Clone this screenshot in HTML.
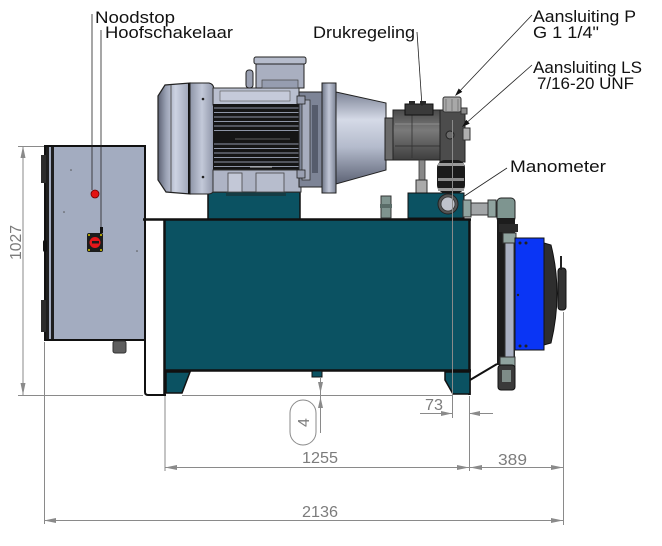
<!DOCTYPE html>
<html><head><meta charset="utf-8">
<style>html,body{margin:0;padding:0;background:#fff;}svg{display:block}</style>
</head>
<body>
<svg width="662" height="546" viewBox="0 0 662 546" xmlns="http://www.w3.org/2000/svg" font-family="Liberation Sans, DejaVu Sans, sans-serif">
<defs>
 <linearGradient id="fanG" x1="0" x2="1" y1="0" y2="0">
  <stop offset="0" stop-color="#5d6374"/><stop offset="0.25" stop-color="#9aa1b4"/><stop offset="0.55" stop-color="#cdd3e2"/><stop offset="1" stop-color="#9ba2b5"/>
 </linearGradient>
 <linearGradient id="shG" x1="0" x2="1" y1="0" y2="0">
  <stop offset="0" stop-color="#8e95a8"/><stop offset="0.5" stop-color="#c3c9d9"/><stop offset="1" stop-color="#8d94a7"/>
 </linearGradient>
 <linearGradient id="coneG" x1="0" x2="0" y1="0" y2="1">
  <stop offset="0" stop-color="#7d8497"/><stop offset="0.3" stop-color="#d5dae7"/><stop offset="0.6" stop-color="#b4bbcc"/><stop offset="1" stop-color="#5d6375"/>
 </linearGradient>
 <linearGradient id="flG" x1="0" x2="1" y1="0" y2="0">
  <stop offset="0" stop-color="#6f7688"/><stop offset="0.5" stop-color="#c2c8d8"/><stop offset="1" stop-color="#7b8294"/>
 </linearGradient>
 <linearGradient id="pumpG" x1="0" x2="0" y1="0" y2="1">
  <stop offset="0" stop-color="#4a4a4a"/><stop offset="0.4" stop-color="#7a7a7a"/><stop offset="1" stop-color="#3e3e3e"/>
 </linearGradient>
</defs>

<!-- ===== Cabinet ===== -->
<rect x="45" y="146" width="100" height="194" fill="#a3acc0" stroke="#111" stroke-width="2"/>
<rect x="46" y="147" width="3" height="192" fill="#1e1e1e"/>
<rect x="51" y="147" width="3" height="192" fill="#1e1e1e"/>
<rect x="41" y="155" width="5" height="28" fill="#2c2c2c"/>
<rect x="41" y="300" width="5" height="32" fill="#2c2c2c"/>
<rect x="43" y="240" width="4" height="12" rx="2" fill="#111"/>
<circle cx="71" cy="170" r="0.8" fill="#555"/>
<circle cx="64" cy="212" r="0.8" fill="#555"/>
<circle cx="137" cy="251" r="0.8" fill="#555"/>
<rect x="113" y="341" width="13" height="12" rx="2" fill="#5e5e5e" stroke="#333"/>
<circle cx="95" cy="194" r="4" fill="#e31212" stroke="#6a0000" stroke-width="0.8"/>
<rect x="87" y="233" width="16" height="19" rx="2" fill="#1c1c1c"/>
<circle cx="95" cy="242.5" r="5.5" fill="#e4161a"/>
<rect x="92" y="241" width="7" height="2.5" fill="#1c1c1c"/>
<circle cx="89" cy="235" r="1" fill="#d8c800"/><circle cx="101" cy="235" r="1" fill="#d8c800"/>
<circle cx="89" cy="250" r="1" fill="#d8c800"/><circle cx="101" cy="250" r="1" fill="#d8c800"/>
<line x1="92" y1="14" x2="92" y2="190" stroke="#222" stroke-width="0.8"/>
<line x1="101" y1="30" x2="101" y2="232" stroke="#222" stroke-width="0.8"/>
<rect x="100" y="227" width="3" height="6" fill="#111"/>

<!-- ===== Tank ===== -->
<path d="M145,322 L145,392 Q145,395 148,395 L166,395" fill="none" stroke="#111" stroke-width="2"/>
<rect x="165" y="220" width="305" height="150" fill="#0b5262"/>
<line x1="143" y1="219.5" x2="471" y2="219.5" stroke="#111" stroke-width="2.5"/>
<line x1="164.5" y1="219" x2="164.5" y2="395" stroke="#111" stroke-width="2.5"/>
<line x1="164" y1="370.5" x2="471" y2="370.5" stroke="#111" stroke-width="2.5"/>
<line x1="469.5" y1="219" x2="469.5" y2="395" stroke="#111" stroke-width="2.5"/>
<polygon points="166,372 190,372 182,393 166,393" fill="#0b5262" stroke="#111" stroke-width="1.5"/>
<polygon points="445,372 470,372 470,394 453,394 445,380" fill="#0b5262" stroke="#111" stroke-width="1.5"/>
<rect x="312" y="371" width="10" height="6" fill="#0b5262" stroke="#111"/>
<rect x="381" y="196" width="10" height="22" fill="#7f948f" stroke="#333"/>
<rect x="380" y="204" width="12" height="4" fill="#5a6c68"/>

<!-- ===== Motor ===== -->
<rect x="208" y="192" width="92" height="27" fill="#0b5262" stroke="#111" stroke-width="1.5"/>
<rect x="226" y="192" width="60" height="4" fill="#153c44"/>
<path d="M158,96 L165,85 L190,83 L190,194 L166,192 L158,180 Z" fill="url(#fanG)" stroke="#222" stroke-width="1.2"/>
<line x1="171" y1="85" x2="171" y2="192" stroke="#555" stroke-width="1"/>
<line x1="189" y1="83" x2="189" y2="194" stroke="#111" stroke-width="2"/>
<path d="M190,83 L209,83 Q214,84 214,90 L214,188 Q214,194 208,194 L190,194 Z" fill="url(#shG)" stroke="#222"/>
<circle cx="203" cy="99" r="1.3" fill="#222"/><circle cx="203" cy="177" r="1.3" fill="#222"/>
<rect x="213" y="88" width="86" height="17" fill="#b9bfcf" stroke="#333"/>
<rect x="220" y="91" width="70" height="10" fill="#c5cada" stroke="#555" stroke-width="0.6"/>
<rect x="213" y="104" width="90" height="67" fill="#151515"/>
<g stroke="#8e95a6" stroke-width="0.9">
 <line x1="214" y1="108" x2="302" y2="108"/><line x1="214" y1="112.5" x2="302" y2="112.5"/>
 <line x1="214" y1="117" x2="302" y2="117"/><line x1="214" y1="121.5" x2="302" y2="121.5"/>
 <line x1="214" y1="126" x2="302" y2="126"/><line x1="214" y1="130.5" x2="302" y2="130.5"/>
 <line x1="214" y1="144" x2="302" y2="144"/><line x1="214" y1="148.5" x2="302" y2="148.5"/>
 <line x1="214" y1="153" x2="302" y2="153"/><line x1="214" y1="157.5" x2="302" y2="157.5"/>
 <line x1="214" y1="162" x2="302" y2="162"/><line x1="214" y1="166.5" x2="302" y2="166.5"/>
</g>
<line x1="235" y1="139" x2="290" y2="139" stroke="#777" stroke-width="0.8"/>
<rect x="213" y="170" width="88" height="22" fill="#aeb4c5" stroke="#333"/>
<rect x="228" y="173" width="14" height="19" fill="#c3c8d7" stroke="#444" stroke-width="0.8"/>
<rect x="256" y="173" width="28" height="19" fill="#b7bdcd" stroke="#444" stroke-width="0.8"/>
<line x1="250" y1="167" x2="272" y2="167" stroke="#bbb" stroke-width="1"/>
<rect x="299" y="92" width="23" height="95" fill="#7d8496" stroke="#222"/>
<rect x="302" y="100" width="8" height="80" fill="#a7adbe" stroke="#333" stroke-width="0.8"/>
<rect x="312" y="105" width="6" height="68" fill="#565c6c"/>
<rect x="297" y="96" width="8" height="8" fill="#9aa0b2" stroke="#222" stroke-width="0.8"/>
<rect x="297" y="170" width="8" height="8" fill="#9aa0b2" stroke="#222" stroke-width="0.8"/>
<rect x="256" y="62" width="48" height="26" fill="#a9afc0" stroke="#222"/>
<rect x="254" y="57" width="52" height="7" rx="2" fill="#b6bccc" stroke="#222"/>
<rect x="262" y="80" width="36" height="8" fill="#969db0" stroke="#444" stroke-width="0.7"/>
<rect x="246" y="70" width="7" height="18" rx="3" fill="#9aa0b2" stroke="#222"/>
<rect x="322" y="83" width="14" height="110" fill="url(#flG)" stroke="#222"/>
<polygon points="336,92 386,103 386,170 336,184" fill="url(#coneG)" stroke="#222"/>

<!-- ===== Pump ===== -->
<rect x="385" y="118" width="10" height="42" fill="#6a6a6a" stroke="#222"/>
<rect x="393" y="110" width="52" height="50" fill="url(#pumpG)" stroke="#222"/>
<line x1="395" y1="124" x2="443" y2="124" stroke="#9a9a9a" stroke-width="0.8"/>
<line x1="395" y1="146" x2="443" y2="146" stroke="#2a2a2a" stroke-width="0.8"/>
<line x1="412" y1="112" x2="412" y2="158" stroke="#333" stroke-width="0.8"/>
<rect x="405" y="104" width="28" height="11" fill="#3a3a3a" stroke="#111"/>
<rect x="409" y="101" width="6" height="4" fill="#2a2a2a"/>
<rect x="420" y="101" width="6" height="4" fill="#2a2a2a"/>
<rect x="440" y="110" width="25" height="52" fill="#4c4c4c" stroke="#222"/>
<circle cx="450" cy="135" r="4" fill="#6a6a6a" stroke="#222"/>
<rect x="443" y="97" width="18" height="15" rx="2" fill="#a8a8a8" stroke="#333"/>
<line x1="446" y1="99" x2="446" y2="111" stroke="#666" stroke-width="0.7"/>
<line x1="452" y1="99" x2="452" y2="111" stroke="#666" stroke-width="0.7"/>
<line x1="458" y1="99" x2="458" y2="111" stroke="#666" stroke-width="0.7"/>
<rect x="463" y="128" width="7" height="12" fill="#b0b0b0" stroke="#333"/>
<rect x="461" y="108" width="6" height="6" fill="#8a8a8a" stroke="#333"/>
<rect x="419" y="160" width="6" height="20" fill="#888" stroke="#333" stroke-width="0.8"/>
<rect x="416" y="180" width="11" height="13" fill="#aaa" stroke="#333"/>
<rect x="437" y="160" width="28" height="33" rx="8" fill="#1a1a1a"/>
<rect x="438" y="163" width="26" height="3" fill="#9a9a9a"/>
<rect x="438" y="178" width="26" height="3" fill="#8a8a8a"/>
<rect x="438" y="188" width="26" height="3" fill="#9a9a9a"/>
<rect x="408" y="193" width="56" height="25" fill="#0b5262" stroke="#111"/>
<circle cx="448" cy="204" r="10" fill="#555" stroke="#222"/>
<circle cx="448" cy="204" r="7" fill="#bfc3cc" stroke="#333" stroke-width="0.8"/>
<rect x="463" y="203" width="35" height="12" fill="#a3a6a8" stroke="#333"/>
<rect x="463" y="200" width="8" height="17" fill="#8fa39f" stroke="#333"/>
<rect x="488" y="200" width="8" height="17" fill="#8fa39f" stroke="#333"/>

<!-- ===== Cooler ===== -->
<rect x="497" y="198" width="18" height="24" rx="4" fill="#7e9590" stroke="#222"/>
<rect x="497" y="218" width="18" height="147" fill="#1c1c1c"/>
<rect x="499" y="224" width="19" height="8" fill="#2a2a2a"/>
<rect x="503" y="233" width="13" height="10" fill="#8fa39f" stroke="#333"/>
<rect x="505" y="243" width="9" height="114" fill="#a9b0c2" stroke="#333"/>
<rect x="515" y="238" width="29" height="112" fill="#0a35f5" stroke="#111"/>
<circle cx="520" cy="243" r="1.5" fill="#222"/><circle cx="526" cy="243" r="1.5" fill="#222"/>
<circle cx="520" cy="346" r="1.5" fill="#222"/><circle cx="526" cy="346" r="1.5" fill="#222"/>
<circle cx="518" cy="295" r="1.2" fill="#222"/>
<path d="M544,243 L551,245 Q563,293 551,343 L544,345 Z" fill="#2e2e2e" stroke="#111"/>
<rect x="558" y="268" width="8" height="42" rx="3" fill="#333" stroke="#111"/>
<rect x="560" y="256" width="2" height="14" fill="#222"/>
<rect x="500" y="357" width="15" height="10" fill="#8fa39f" stroke="#333"/>
<rect x="498" y="365" width="17" height="25" rx="3" fill="#3a3a3a" stroke="#111"/>
<rect x="502" y="370" width="9" height="12" fill="#7e8c88"/>
<line x1="470" y1="380" x2="497" y2="364" stroke="#111" stroke-width="2"/>

<!-- ===== Dimensions ===== -->
<g stroke="#8a8a8a" stroke-width="1" fill="none">
 <line x1="23" y1="146" x2="23" y2="395"/>
 <line x1="18" y1="146.5" x2="44" y2="146.5"/>
 <line x1="18" y1="395.5" x2="143" y2="395.5"/>
 <line x1="182" y1="395.5" x2="452" y2="395.5"/>
 <line x1="44.5" y1="342" x2="44.5" y2="524"/>
 <line x1="44" y1="520.5" x2="563" y2="520.5"/>
 <line x1="165" y1="396" x2="165" y2="471"/>
 <line x1="165" y1="467.5" x2="563" y2="467.5"/>
 <line x1="469.5" y1="396" x2="469.5" y2="471"/>
 <line x1="563.5" y1="312" x2="563.5" y2="525"/>
 <line x1="452.5" y1="120" x2="452.5" y2="418"/>
 <line x1="420" y1="413.5" x2="452" y2="413.5"/>
 <line x1="469" y1="413.5" x2="493" y2="413.5"/>
 <line x1="320.5" y1="378" x2="320.5" y2="433"/>
 <rect x="290" y="400" width="26" height="45" rx="13"/>
</g>
<g fill="#8a8a8a">
 <polygon points="23,146 20.5,158 25.5,158"/>
 <polygon points="23,395 20.5,383 25.5,383"/>
 <polygon points="44,520.5 56,518 56,523"/>
 <polygon points="563,520.5 551,518 551,523"/>
 <polygon points="165,467.5 177,465 177,470"/>
 <polygon points="469,467.5 457,465 457,470"/>
 <polygon points="470,467.5 482,465 482,470"/>
 <polygon points="563,467.5 551,465 551,470"/>
 <polygon points="452,413.5 441,411 441,416"/>
 <polygon points="469,413.5 480,411 480,416"/>
 <polygon points="320.5,393 318,382 323,382"/>
 <polygon points="320.5,397 318,408 323,408"/>
</g>
<g fill="#7c7c7c" font-size="16">
 <text x="302" y="517" textLength="36" lengthAdjust="spacingAndGlyphs">2136</text>
 <text x="302" y="463" textLength="36" lengthAdjust="spacingAndGlyphs">1255</text>
 <text x="498" y="465" textLength="29" lengthAdjust="spacingAndGlyphs">389</text>
 <text x="425" y="410" textLength="18" lengthAdjust="spacingAndGlyphs">73</text>
 <text transform="translate(21,260) rotate(-90)" textLength="35" lengthAdjust="spacingAndGlyphs">1027</text>
 <text transform="translate(309,427) rotate(-90)">4</text>
</g>

<!-- ===== Leaders ===== -->
<g stroke="#222" stroke-width="0.8">
 <line x1="417" y1="32" x2="422" y2="106"/>
 <line x1="532" y1="15" x2="457" y2="94"/>
 <line x1="532" y1="65" x2="464" y2="125"/>
 <line x1="507" y1="168" x2="463" y2="197"/>
</g>
<polygon points="455,96 462.3,91.9 458.7,88.5" fill="#111"/>
<polygon points="462,127 469.7,123.6 466.3,119.8" fill="#111"/>

<!-- ===== Labels ===== -->
<g fill="#111" font-size="17">
 <text x="95" y="23" textLength="80" lengthAdjust="spacingAndGlyphs">Noodstop</text>
 <text x="105" y="38" textLength="128" lengthAdjust="spacingAndGlyphs">Hoofschakelaar</text>
 <text x="313" y="38" textLength="102" lengthAdjust="spacingAndGlyphs">Drukregeling</text>
 <text x="533" y="22" textLength="103" lengthAdjust="spacingAndGlyphs">Aansluiting P</text>
 <text x="533" y="38" textLength="66" lengthAdjust="spacingAndGlyphs">G 1 1/4"</text>
 <text x="533" y="73" textLength="109" lengthAdjust="spacingAndGlyphs">Aansluiting LS</text>
 <text x="537" y="89" textLength="97" lengthAdjust="spacingAndGlyphs">7/16-20 UNF</text>
 <text x="510" y="172" textLength="96" lengthAdjust="spacingAndGlyphs">Manometer</text>
</g>
</svg>
</body></html>
